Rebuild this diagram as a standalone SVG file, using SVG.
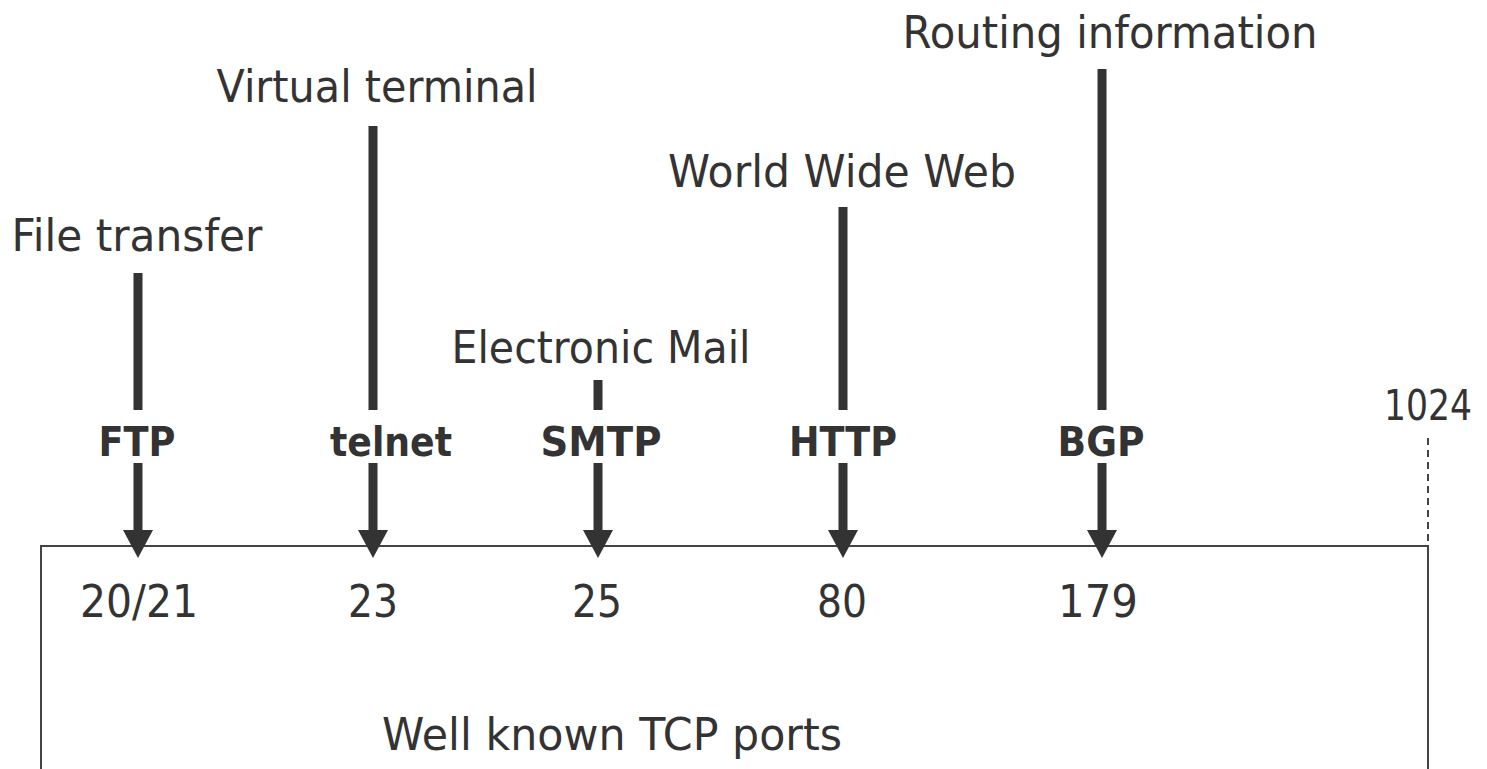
<svg xmlns="http://www.w3.org/2000/svg" width="1487" height="769" viewBox="0 0 1487 769">
  <defs>
    <style>
      .lbl { font-family: "DejaVu Sans", Verdana, sans-serif; font-size: 44px; fill: #333; text-anchor: middle; }
      .proto { font-family: "DejaVu Sans", Verdana, sans-serif; font-size: 41px; font-weight: bold; fill: #333; text-anchor: middle; }
      .shaft { stroke: #333; stroke-width: 9; fill: none; }
      .head { fill: #333; }
      .box { fill: none; stroke: #444; stroke-width: 2; }
    </style>
  </defs>

  <!-- port range frame -->
  <g id="ports-frame">
    <path class="box" d="M41,769 V546 H1428 V769"/>
    <line x1="1428" y1="438" x2="1428" y2="546" stroke="#444" stroke-width="2" stroke-dasharray="7,5"/>
    <text class="lbl" x="1428" y="420" style="font-size:42px" textLength="88" lengthAdjust="spacingAndGlyphs">1024</text>
    <text class="lbl" x="612" y="750" textLength="460" lengthAdjust="spacingAndGlyphs">Well known TCP ports</text>
  </g>

  <g id="ftp">
    <text class="lbl" x="137" y="251" textLength="251" lengthAdjust="spacingAndGlyphs">File transfer</text>
    <text class="proto" x="137" y="456" textLength="77" lengthAdjust="spacingAndGlyphs">FTP</text>
    <text class="lbl" x="139" y="617" textLength="118" lengthAdjust="spacingAndGlyphs">20/21</text>
  </g>
  <g id="telnet">
    <text class="lbl" x="377" y="102" textLength="321" lengthAdjust="spacingAndGlyphs">Virtual terminal</text>
    <text class="proto" x="391" y="456" textLength="122" lengthAdjust="spacingAndGlyphs">telnet</text>
    <text class="lbl" x="373" y="617" textLength="50" lengthAdjust="spacingAndGlyphs">23</text>
  </g>
  <g id="smtp">
    <text class="lbl" x="601" y="363" textLength="299" lengthAdjust="spacingAndGlyphs">Electronic Mail</text>
    <text class="proto" x="601" y="456" textLength="121" lengthAdjust="spacingAndGlyphs">SMTP</text>
    <text class="lbl" x="597" y="617" textLength="50" lengthAdjust="spacingAndGlyphs">25</text>
  </g>
  <g id="http">
    <text class="lbl" x="842" y="187" textLength="348" lengthAdjust="spacingAndGlyphs">World Wide Web</text>
    <text class="proto" x="843" y="456" textLength="108" lengthAdjust="spacingAndGlyphs">HTTP</text>
    <text class="lbl" x="842" y="617" textLength="50" lengthAdjust="spacingAndGlyphs">80</text>
  </g>
  <g id="bgp">
    <text class="lbl" x="1110" y="48" textLength="415" lengthAdjust="spacingAndGlyphs">Routing information</text>
    <text class="proto" x="1101" y="456" textLength="87" lengthAdjust="spacingAndGlyphs">BGP</text>
    <text class="lbl" x="1098" y="617" textLength="80" lengthAdjust="spacingAndGlyphs">179</text>
  </g>

  <!-- connectors: upper stub, then arrow below the protocol name -->
  <g id="connectors">
    <line class="shaft" x1="138" y1="273" x2="138" y2="410"/>
    <line class="shaft" x1="138" y1="463" x2="138" y2="531"/>
    <polygon class="head" points="123,530 153,530 138,558"/>

    <line class="shaft" x1="373" y1="126" x2="373" y2="410"/>
    <line class="shaft" x1="373" y1="463" x2="373" y2="531"/>
    <polygon class="head" points="358,530 388,530 373,558"/>

    <line class="shaft" x1="598" y1="380" x2="598" y2="410"/>
    <line class="shaft" x1="598" y1="463" x2="598" y2="531"/>
    <polygon class="head" points="583,530 613,530 598,558"/>

    <line class="shaft" x1="843" y1="207" x2="843" y2="410"/>
    <line class="shaft" x1="843" y1="463" x2="843" y2="531"/>
    <polygon class="head" points="828,530 858,530 843,558"/>

    <line class="shaft" x1="1102" y1="69" x2="1102" y2="410"/>
    <line class="shaft" x1="1102" y1="463" x2="1102" y2="531"/>
    <polygon class="head" points="1087,530 1117,530 1102,558"/>
  </g>
</svg>
